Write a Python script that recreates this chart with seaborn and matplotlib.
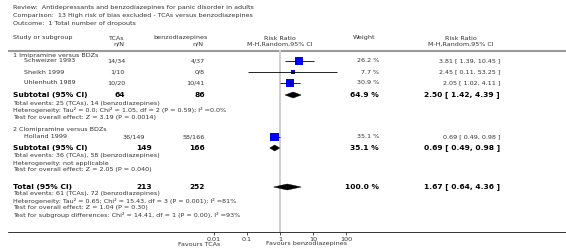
import matplotlib
matplotlib.use('Agg')
import matplotlib.pyplot as plt
from matplotlib.patches import Polygon
import seaborn as sns
import pandas as pd

# study rows
studies = ['Schweizer 1993', 'Sheikh 1999', 'Uhlenhuth 1989', 'Holland 1999']
tca_nN = ['14/34', '1/10', '10/20', '36/149']
bzd_nN = ['4/37', '0/8', '10/41', '58/166']
rr = [3.81, 2.45, 2.05, 0.69]
rr_lo = [1.39, 0.11, 1.02, 0.49]
rr_hi = [10.45, 53.25, 4.11, 0.98]
weight = [26.2, 7.7, 30.9, 35.1]

# subtotals + total
sub_rr = [2.50, 0.69, 1.67]
sub_lo = [1.42, 0.49, 0.64]
sub_hi = [4.39, 0.98, 4.36]
sub_weight = [64.9, 35.1, 100.0]
sub_tca = [64, 149, 213]
sub_bzd = [86, 166, 252]

ticks = [0.01, 0.1, 1, 10, 100]
tick_labels = ['0.01', '0.1', '1', '10', '100']

# layout (pixel rows)
study_y = [61, 72, 83, 137]
sub_y = [95, 148, 187]

W, H = 566, 248
sns.set_style('white')
plt.rcParams['font.family'] = ['DejaVu Sans']

fig = plt.figure(figsize=(W / 100, H / 100), dpi=100)
ax = fig.add_axes([0, 0, 1, 1])
ax.set_xlim(0, W)
ax.set_ylim(H, 0)
ax.axis('off')

fs = 4.6
fb = 5.4
grey = '#333333'


def txt(x, y, s, ha='left', size=fs, weight='normal', color=grey):
    ax.text(x, y, s, ha=ha, va='center', fontsize=size, fontweight=weight, color=color)


txt(13, 8, 'Review:  Antidepressants and benzodiazepines for panic disorder in adults')
txt(13, 15.5, 'Comparison:  13 High risk of bias excluded - TCAs versus benzodiazepines')
txt(13, 23, 'Outcome:  1 Total number of dropouts')

# header
txt(13, 38, 'Study or subgroup')
txt(124, 38, 'TCAs', ha='right')
txt(124, 44, 'n/N', ha='right')
txt(208, 38, 'benzodiazepines', ha='right')
txt(203, 44, 'n/N', ha='right')
txt(280, 38, 'Risk Ratio', ha='center')
txt(280, 44, 'M-H,Random,95% CI', ha='center')
txt(364, 38, 'Weight', ha='center')
txt(461, 38, 'Risk Ratio', ha='center')
txt(461, 44, 'M-H,Random,95% CI', ha='center')
ax.plot([8, 566], [50.5, 50.5], color='#999999', lw=1.5, solid_capstyle='butt')

# groups
txt(13, 55, '1 Imipramine versus BDZs')
txt(13, 129, '2 Clomipramine versus BDZs')

tca_right = [125, 125, 125, 145]
for i, name in enumerate(studies):
    y = study_y[i]
    txt(24, y, name)
    txt(tca_right[i], y, tca_nN[i], ha='right')
    txt(205, y, bzd_nN[i], ha='right')
    txt(379, y, '%.1f %%' % weight[i], ha='right')
    txt(500, y, '%.2f [ %.2f, %.2f ]' % (rr[i], rr_lo[i], rr_hi[i]), ha='right')

sub_names = ['Subtotal (95% CI)', 'Subtotal (95% CI)', 'Total (95% CI)']
sub_tca_right = [125, 152, 152]
for i, name in enumerate(sub_names):
    y = sub_y[i]
    txt(13, y, name, size=fb, weight='bold', color='black')
    txt(sub_tca_right[i], y, str(sub_tca[i]), ha='right', size=fb, weight='bold', color='black')
    txt(205, y, str(sub_bzd[i]), ha='right', size=fb, weight='bold', color='black')
    txt(379, y, '%.1f %%' % sub_weight[i], ha='right', size=fb, weight='bold', color='black')
    txt(500, y, '%.2f [ %.2f, %.2f ]' % (sub_rr[i], sub_lo[i], sub_hi[i]), ha='right',
        size=fb, weight='bold', color='black')

notes = [
    (103, 'Total events: 25 (TCAs), 14 (benzodiazepines)'),
    (110, 'Heterogeneity: Tau\u00b2 = 0.0; Chi\u00b2 = 1.05, df = 2 (P = 0.59); I\u00b2 =0.0%'),
    (117, 'Test for overall effect: Z = 3.19 (P = 0.0014)'),
    (156, 'Total events: 36 (TCAs), 58 (benzodiazepines)'),
    (163, 'Heterogeneity: not applicable'),
    (170, 'Test for overall effect: Z = 2.05 (P = 0.040)'),
    (194, 'Total events: 61 (TCAs), 72 (benzodiazepines)'),
    (201, 'Heterogeneity: Tau\u00b2 = 0.65; Chi\u00b2 = 15.43, df = 3 (P = 0.001); I\u00b2 =81%'),
    (208, 'Test for overall effect: Z = 1.04 (P = 0.30)'),
    (215, 'Test for subgroup differences: Chi\u00b2 = 14.41, df = 1 (P = 0.00), I\u00b2 =93%'),
]
for y, s in notes:
    txt(13, y, s)

# bottom axis line
ax.plot([8, 566], [232, 232], color='#333333', lw=0.7)
txt(220, 244, 'Favours TCAs', ha='right')
txt(266, 244, 'Favours benzodiazepines')

# forest panel: log x, y in pixel rows
x0, x1, ytop, ybot = 214, 346, 50, 232
fax = fig.add_axes([x0 / W, (H - ybot) / H, (x1 - x0) / W, (ybot - ytop) / H])
fax.patch.set_alpha(0)
fax.set_xscale('log')
fax.set_xlim(0.01, 100)
fax.set_ylim(ybot, ytop)
for sp in fax.spines.values():
    sp.set_visible(False)
fax.set_yticks([])
fax.set_xticks(ticks)
fax.set_xticklabels(tick_labels)
fax.minorticks_off()
fax.tick_params(axis='x', direction='out', length=2.2, width=0.6, pad=1.2,
                labelsize=fs, colors=grey, bottom=True)

fax.axvline(1, color='#d0d0d0', lw=1.5, zorder=0)

df = pd.DataFrame({'rr': rr, 'y': study_y, 'w': weight})
sns.scatterplot(data=df, x='rr', y='y', size='w', sizes=(1.1 * min(weight), 1.1 * max(weight)),
                marker='s', color='#0000ff', edgecolor='none', legend=False, ax=fax, zorder=2)
fax.hlines(study_y, rr_lo, rr_hi, color='black', lw=0.6, zorder=3)
fax.scatter(rr, study_y, marker='|', s=4, color='black', linewidths=0.6, zorder=4)

for i in range(3):
    y = sub_y[i]
    h = 3
    fax.add_patch(Polygon([(sub_lo[i], y), (sub_rr[i], y - h), (sub_hi[i], y), (sub_rr[i], y + h)],
                          closed=True, facecolor='black', edgecolor='black', lw=0.3, zorder=3))
fax.set_xlabel('')
fax.set_ylabel('')

fig.savefig('out.png', dpi=100)
